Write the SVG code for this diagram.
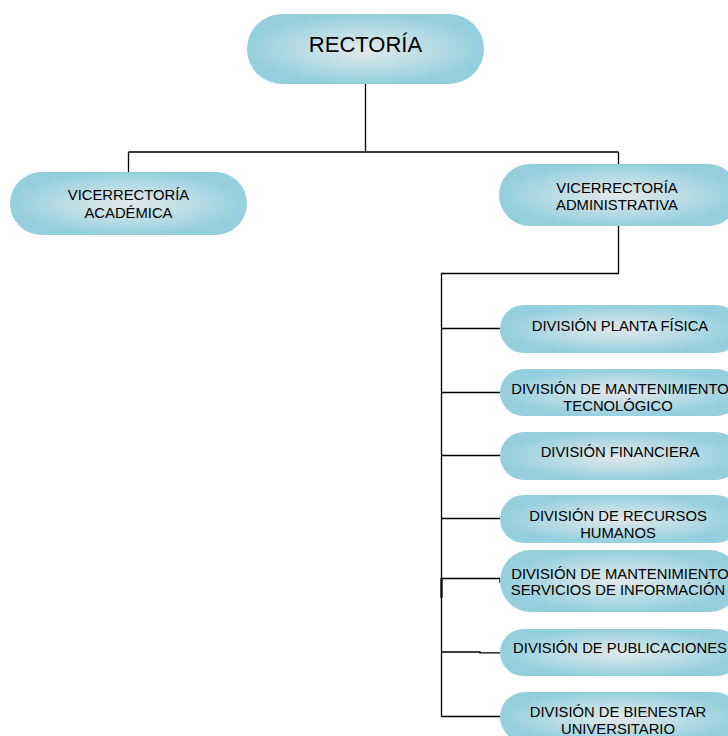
<svg xmlns="http://www.w3.org/2000/svg" width="728" height="736" viewBox="0 0 728 736">
  <style>
    .pill { fill: url(#pillFill); }
    .lbl { font-family: "Liberation Sans", Arial, sans-serif; font-size: 14.8px; fill: #000; text-anchor: middle; }
    .big { font-size: 22px; }
    .wire { fill: none; stroke: #000; stroke-width: 1.3; }
  </style>
  <defs>
    <radialGradient id="pillFill" cx="0.5" cy="0.5" r="0.5" fx="0.5" fy="0.5">
      <stop offset="0" stop-color="#e3e8ea"/>
      <stop offset="0.55" stop-color="#b9dce5"/>
      <stop offset="1" stop-color="#95cfdd"/>
    </radialGradient>
  </defs>
  <rect width="728" height="736" fill="#fff"/>

  <!-- connectors -->
  <g id="connectors" class="wire">
    <path d="M365.5 84 V152 M128.5 152 H618.5 M128.5 152 V172 M618.5 152 V164"/>
    <path d="M618.5 226 V273.5 H441.5 V716.5"/>
    <path d="M441.5 328.5 H500"/>
    <path d="M441.5 392.5 H500"/>
    <path d="M441.5 455.5 H500"/>
    <path d="M441.5 518.5 H500"/>
    <path d="M441.5 578.5 H500 V583"/>
    <path d="M441.5 652 H480 V652.8 H500"/>
    <path d="M441.5 716.5 H500"/>
    <path d="M441.5 578 V598" stroke-width="2.2"/>
  </g>

  <!-- top level -->
  <g id="rectoria">
    <rect class="pill" x="247" y="14" width="237" height="70" rx="35"/>
    <text class="lbl big" x="365.5" y="52">RECTORÍA</text>
  </g>

  <!-- vice-rectorates -->
  <g id="vic-academica">
    <rect class="pill" x="10" y="172" width="237" height="63" rx="31.5"/>
    <text class="lbl" x="128.5" y="200">VICERRECTORÍA</text>
    <text class="lbl" x="128.5" y="218">ACADÉMICA</text>
  </g>
  <g id="vic-administrativa">
    <rect class="pill" x="499" y="164" width="240" height="62" rx="31"/>
    <text class="lbl" x="617" y="193">VICERRECTORÍA</text>
    <text class="lbl" x="617" y="210">ADMINISTRATIVA</text>
  </g>

  <!-- divisions -->
  <g id="div-planta">
    <rect class="pill" x="500" y="305" width="240" height="48" rx="24"/>
    <text class="lbl" x="620" y="331">DIVISIÓN PLANTA FÍSICA</text>
  </g>
  <g id="div-mant-tec">
    <rect class="pill" x="500" y="369" width="240" height="47" rx="23.5"/>
    <text class="lbl" x="620" y="393.5">DIVISIÓN DE MANTENIMIENTO</text>
    <text class="lbl" x="618" y="411">TECNOLÓGICO</text>
  </g>
  <g id="div-financiera">
    <rect class="pill" x="500" y="432" width="240" height="48" rx="24"/>
    <text class="lbl" x="620" y="457">DIVISIÓN FINANCIERA</text>
  </g>
  <g id="div-rrhh">
    <rect class="pill" x="500" y="495" width="240" height="48" rx="24"/>
    <text class="lbl" x="618" y="520.5">DIVISIÓN DE RECURSOS</text>
    <text class="lbl" x="618" y="537.5">HUMANOS</text>
  </g>
  <g id="div-mant-serv">
    <rect class="pill" x="500" y="550" width="240" height="62" rx="31"/>
    <text class="lbl" x="620" y="578.5">DIVISIÓN DE MANTENIMIENTO</text>
    <text class="lbl" x="618" y="595">SERVICIOS DE INFORMACIÓN</text>
  </g>
  <g id="div-publicaciones">
    <rect class="pill" x="500" y="629" width="240" height="47" rx="23.5"/>
    <text class="lbl" x="620" y="653">DIVISIÓN DE PUBLICACIONES</text>
  </g>
  <g id="div-bienestar">
    <rect class="pill" x="500" y="692" width="240" height="50" rx="25"/>
    <text class="lbl" x="618" y="717">DIVISIÓN DE BIENESTAR</text>
    <text class="lbl" x="618" y="734">UNIVERSITARIO</text>
  </g>
</svg>
